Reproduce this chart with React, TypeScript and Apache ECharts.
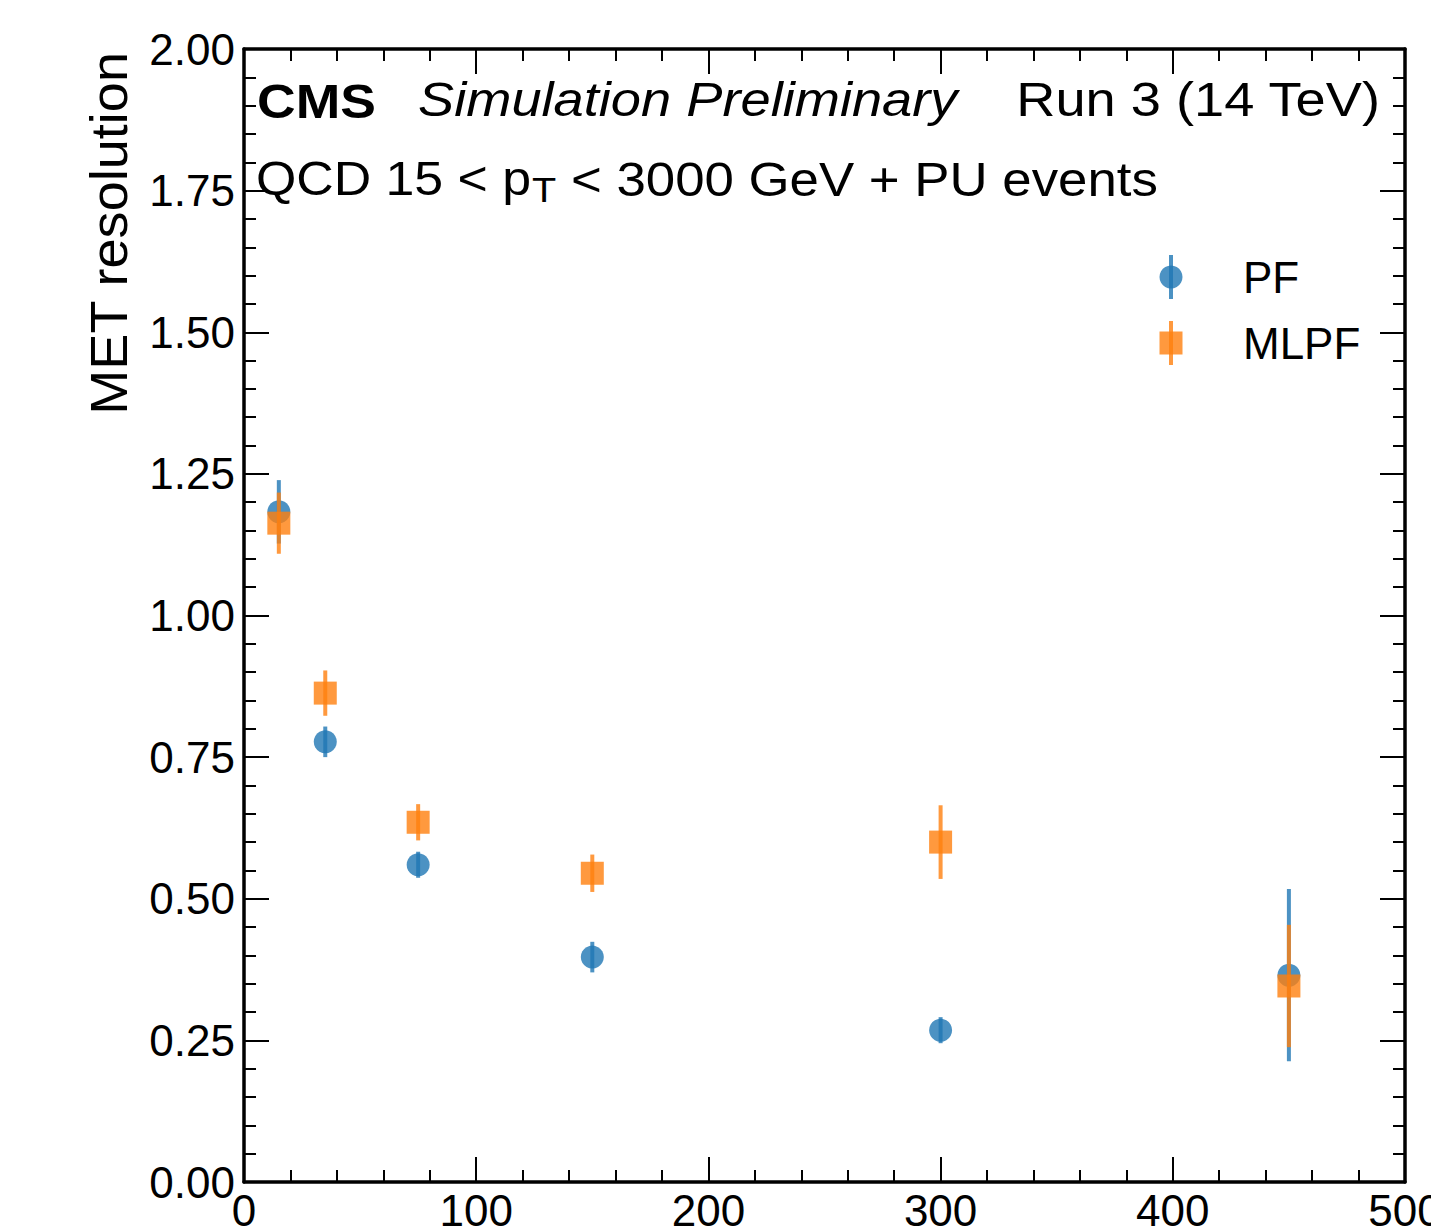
import React, { useEffect, useRef } from "react";
import * as echarts from "echarts";

const binCenters = [15, 35, 75, 150, 300, 450];
const pfResolution = [1.183, 0.777, 0.56, 0.397, 0.268, 0.365];
const pfError = [0.056, 0.027, 0.023, 0.027, 0.023, 0.152];
const mlpfResolution = [1.163, 0.863, 0.635, 0.545, 0.6, 0.346];
const mlpfError = [0.054, 0.04, 0.032, 0.033, 0.065, 0.108];
const seriesNames = ["PF", "MLPF"];
const xTickStep = 100;
const yTickStep = 0.25;

const FONT = "'Liberation Sans', Arial, Helvetica, sans-serif";
const BLUE = "rgba(31,119,180,0.8)";
const ORANGE = "rgba(255,127,14,0.8)";

function makeRender(color: string, shape: "circle" | "square") {
  return (params: any, api: any) => {
    const x = api.value(0);
    const y = api.value(1);
    const e = api.value(2);
    const c = api.coord([x, y]);
    const top = api.coord([x, y + e]);
    const bot = api.coord([x, y - e]);
    const marker =
      shape === "circle"
        ? { type: "circle", shape: { cx: c[0], cy: c[1], r: 11.5 }, style: { fill: color } }
        : { type: "rect", shape: { x: c[0] - 11.5, y: c[1] - 11.5, width: 23, height: 23 }, style: { fill: color } };
    return {
      type: "group",
      children: [
        { type: "line", shape: { x1: c[0], y1: top[1], x2: c[0], y2: bot[1] }, style: { stroke: color, lineWidth: 4 } },
        marker,
      ],
    };
  };
}

export default function App() {
  const ref = useRef<HTMLDivElement>(null);
  useEffect(() => {
    document.body.style.margin = "0";
    document.body.style.overflow = "hidden";
    document.documentElement.style.overflow = "hidden";
    const chart = echarts.init(ref.current!, null, { renderer: "svg" });
    const axisCommon = (show: boolean) => ({
      axisLine: { show: true, onZero: false, lineStyle: { color: "#000", width: 3.5 } },
      axisTick: { show: true, inside: true, length: 25, lineStyle: { color: "#000", width: 2 } },
      minorTick: { show: true, splitNumber: 5, length: 12, lineStyle: { color: "#000", width: 2 } },
      splitLine: { show: false },
      axisLabel: { show, color: "#000", fontSize: 44, fontFamily: FONT },
    });
    const pfData = binCenters.map((x, i) => [x, pfResolution[i], pfError[i]]);
    const mlpfData = binCenters.map((x, i) => [x, mlpfResolution[i], mlpfError[i]]);
    const legendItems = [
      { name: seriesNames[0], color: BLUE, y: 277, shape: "circle" },
      { name: seriesNames[1], color: ORANGE, y: 343, shape: "square" },
    ];
    const legendGraphics: any[] = [];
    legendItems.forEach((it) => {
      legendGraphics.push({
        type: "line",
        shape: { x1: 1171, y1: it.y - 22, x2: 1171, y2: it.y + 22 },
        style: { stroke: it.color, lineWidth: 4 },
      });
      legendGraphics.push(
        it.shape === "circle"
          ? { type: "circle", shape: { cx: 1171, cy: it.y, r: 11.5 }, style: { fill: it.color } }
          : { type: "rect", shape: { x: 1159.5, y: it.y - 11.5, width: 23, height: 23 }, style: { fill: it.color } }
      );
      legendGraphics.push({
        type: "text",
        x: 1243,
        y: it.y,
        style: { text: it.name, font: `44px ${FONT}`, fill: "#000", textAlign: "left", textVerticalAlign: "middle" },
      });
    });
    const txt = (text: string, x: number, y: number, font: string, align: string, sx: number) => ({
      type: "text",
      x,
      y,
      scaleX: sx,
      style: { text, font, fill: "#000", textAlign: align, textVerticalAlign: "middle" },
    });
    chart.setOption({
      animation: false,
      backgroundColor: "#fff",
      grid: { left: 244, right: 26, top: 49, bottom: 48, containLabel: false, outerBoundsMode: "none" },
      xAxis: [
        { type: "value", min: 0, max: 500, interval: xTickStep, position: "bottom", ...axisCommon(true),
          axisLabel: { show: true, color: "#000", fontSize: 44, fontFamily: FONT, margin: 6 } },
        { type: "value", min: 0, max: 500, interval: xTickStep, position: "top", ...axisCommon(false) },
      ],
      yAxis: [
        { type: "value", min: 0, max: 2, interval: yTickStep, position: "left", ...axisCommon(true),
          axisLabel: { show: true, color: "#000", fontSize: 44, fontFamily: FONT, margin: 9,
            formatter: (v: number) => v.toFixed(2) } },
        { type: "value", min: 0, max: 2, interval: yTickStep, position: "right", ...axisCommon(false) },
      ],
      series: [
        { name: seriesNames[0], type: "custom", xAxisIndex: 0, yAxisIndex: 0, renderItem: makeRender(BLUE, "circle"),
          data: pfData, encode: { x: 0, y: 1 }, clip: false },
        { name: seriesNames[1], type: "custom", xAxisIndex: 0, yAxisIndex: 0, renderItem: makeRender(ORANGE, "square"),
          data: mlpfData, encode: { x: 0, y: 1 }, clip: false },
      ],
      graphic: [
        txt("CMS", 257, 101, `bold 48px ${FONT}`, "left", 1.115),
        txt("Simulation Preliminary", 418, 100, `italic 48px ${FONT}`, "left", 1.13),
        txt("Run 3 (14 TeV)", 1380, 100, `48px ${FONT}`, "right", 1.13),
        txt("QCD 15 < p", 256, 179, `48px ${FONT}`, "left", 1.08),
        txt("T", 532, 190, `36px ${FONT}`, "left", 1.1),
        txt("< 3000 GeV + PU events", 571, 179, `48px ${FONT}`, "left", 1.1),
        { type: "text", x: 109, y: 52, rotation: Math.PI / 2, scaleX: 1.04,
          style: { text: "MET resolution", font: `52px ${FONT}`, fill: "#000", textAlign: "right", textVerticalAlign: "middle" } },
        ...legendGraphics,
      ],
    });
    return () => chart.dispose();
  }, []);
  return <div ref={ref} style={{ position: "absolute", left: 0, top: 0, width: 1431, height: 1230 }} />;
}
